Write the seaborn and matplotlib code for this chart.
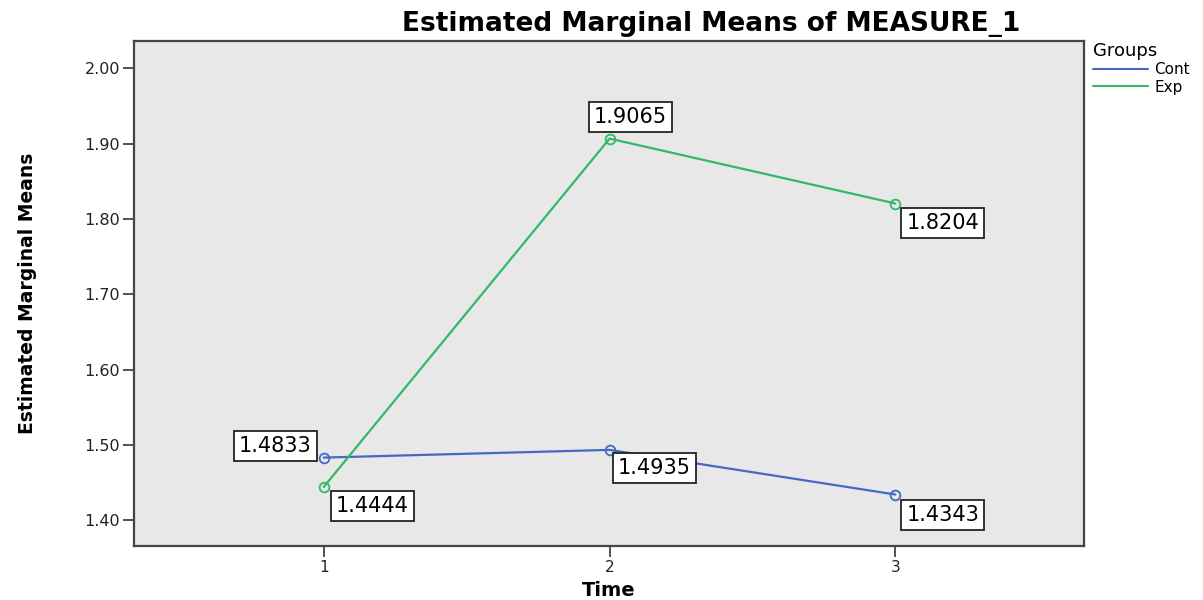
import matplotlib
matplotlib.use("Agg")
import matplotlib.pyplot as plt
import seaborn as sns
import pandas as pd
from matplotlib.lines import Line2D

time = [1, 2, 3]
cont = [1.4833, 1.4935, 1.4343]
exp_ = [1.4444, 1.9065, 1.8204]
groups = ["Cont", "Exp"]
yticks = [1.40, 1.50, 1.60, 1.70, 1.80, 1.90, 2.00]

df = pd.DataFrame({
    "Time": time * 2,
    "Mean": cont + exp_,
    "Groups": [groups[0]] * 3 + [groups[1]] * 3,
})

sns.set_style("white")
plt.rcParams['font.family'] = ['DejaVu Sans']
plt.rcParams['text.color'] = 'black'
plt.rcParams['axes.labelcolor'] = 'black'

palette = {"Cont": "#4568c2", "Exp": "#33b86a"}

fig = plt.figure(figsize=(12.03, 6.0), dpi=100)
ax = fig.add_axes([134 / 1203, 1 - 546 / 600, (1084 - 134) / 1203, (546 - 41) / 600])
ax.set_facecolor("#e8e8e8")

sns.lineplot(data=df, x="Time", y="Mean", hue="Groups", palette=palette,
             marker="o", markersize=7, markerfacecolor="none",
             markeredgewidth=1.3, linewidth=1.6, ax=ax, legend=False)
for ln in ax.lines:
    ln.set_markeredgecolor(ln.get_color())
    ln.set_markerfacecolor("none")

offsets = {
    ("Cont", 0): (-12, 12, "right", "center"),
    ("Cont", 1): (8, -18, "left", "center"),
    ("Cont", 2): (11, -20, "left", "center"),
    ("Exp", 0): (12, -19, "left", "center"),
    ("Exp", 1): (-16, 22, "left", "center"),
    ("Exp", 2): (11, -19, "left", "center"),
}
for g, vals in zip(groups, [cont, exp_]):
    for i, (t, v) in enumerate(zip(time, vals)):
        dx, dy, ha, va = offsets[(g, i)]
        ax.annotate(f"{v:.4f}", xy=(t, v), xytext=(dx, dy), textcoords="offset pixels",
                    ha=ha, va=va, fontsize=15, color="black",
                    bbox=dict(boxstyle="square,pad=0.24", fc="white", ec="#222222", lw=1.3))

ax.set_xlim(0.336, 3.66)
ax.set_ylim(1.366, 2.036)
ax.set_xticks(time)
ax.set_xticklabels([str(t) for t in time], fontsize=11)
ax.set_yticks(yticks)
ax.set_yticklabels([f"{y:.2f}" for y in yticks], fontsize=11.5)
ax.tick_params(axis="both", direction="out", length=8, width=1.2, color="#333333",
               labelcolor="#222222", bottom=True, left=True, pad=2)
for s in ax.spines.values():
    s.set_color("#444444")
    s.set_linewidth(1.6)

ax.set_xlabel("Time", fontsize=14, fontweight="bold", va="center", color="black")
ax.xaxis.set_label_coords(0.5, (546 - 591) / 505)
ax.set_ylabel("Estimated Marginal Means", fontsize=13.5, fontweight="bold", va="center", color="black")
ax.yaxis.set_label_coords((28 - 134) / 950, 0.5)
fig.text(711 / 1203, 1 - 24 / 600, "Estimated Marginal Means of MEASURE_1",
         ha="center", va="center", fontsize=19, fontweight="bold", color="black")

handles = [Line2D([], [], color=palette[g], lw=1.5) for g in groups]
leg = fig.legend(handles, groups, loc="upper left", bbox_to_anchor=(1093 / 1203, 1 - 42 / 600),
                 frameon=False, title="Groups", fontsize=11, title_fontsize=13,
                 handlelength=3.6, handletextpad=0.4, labelspacing=0.15, borderaxespad=0,
                 borderpad=0)
leg._legend_box.align = "left"

fig.savefig("out.png", dpi=100)
